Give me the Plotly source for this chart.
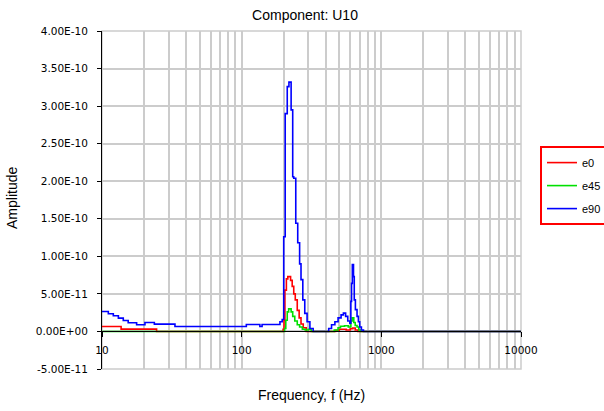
import plotly.graph_objects as go

# ---- data (amplitudes in units of 1e-11) ----
freq_e0 = [10, 13.7, 24.6, 198, 201, 204, 209, 214, 224, 230, 236, 242, 250, 258, 266, 276, 290,
           470, 500, 560, 600, 625, 650, 680, 10000]
amp_e0 = [0.66, 0.31, 0, 0.3, 1.5, 5.5, 7.0, 7.3, 6.8, 6.0, 5.0, 4.2, 2.8, 1.8, 1.0, 0.5, 0,
          0.15, 0.3, 0.2, 0.35, 0.45, 0.2, 0, 0]

freq_e45 = [10, 203, 207, 212, 217, 226, 232, 240, 250, 260, 272, 285, 300, 315,
            460, 490, 510, 545, 580, 605, 618, 635, 650, 670, 690, 710, 10000]
amp_e45 = [0, 0.4, 1.5, 2.6, 3.0, 2.6, 2.0, 1.4, 0.9, 0.6, 0.3, 0.2, 0.3, 0,
           0.2, 0.5, 0.7, 0.75, 0.6, 1.4, 1.8, 1.2, 0.8, 0.6, 0.2, 0, 0]

freq_e90 = [10, 11.1, 12.05, 13.1, 14.2, 15.4, 17.7, 20.3, 23.7, 33.3, 108, 135, 140, 188, 195,
            200, 205, 212, 218, 226, 232, 236, 244, 252, 260, 266, 274, 283, 294, 308, 325,
            420, 440, 465, 490, 515, 535, 555, 575, 595, 605, 612, 620, 632, 640, 652, 670,
            685, 700, 720, 745, 10000]
amp_e90 = [2.66, 2.35, 2.08, 1.77, 1.46, 1.15, 0.89, 1.2, 0.97, 0.66, 0.93, 0.66, 0.93, 1.3, 1.6,
           12.6, 29.0, 32.6, 33.2, 29.5, 20.6, 20.4, 14.4, 11.8, 9.0, 6.9, 4.2, 2.4, 1.3, 0.4, 0,
           0.4, 0.9, 1.3, 1.8, 2.2, 2.44, 2.0, 1.4, 1.1, 4.0, 6.4, 8.9, 7.3, 4.2, 2.9, 2.0,
           1.3, 0.6, 0.2, 0, 0]

series = [("e0", freq_e0, amp_e0, "#ff0000"),
          ("e45", freq_e45, amp_e45, "#00e000"),
          ("e90", freq_e90, amp_e90, "#0000ff")]

y_tick_vals = [-5e-11, 0, 5e-11, 1e-10, 1.5e-10, 2e-10, 2.5e-10, 3e-10, 3.5e-10, 4e-10]
y_tick_text = ["-5.00E-11", "0.00E+00", "5.00E-11", "1.00E-10", "1.50E-10", "2.00E-10",
               "2.50E-10", "3.00E-10", "3.50E-10", "4.00E-10"]
x_tick_vals = [10, 100, 1000, 10000]
x_tick_text = ["10", "100", "1000", "10000"]
x_minor_vals = [m * d for d in (10, 100, 1000) for m in range(2, 10)]

fig = go.Figure()
for name, f, a, c in series:
    fig.add_trace(go.Scatter(x=f, y=[v * 1e-11 for v in a], mode="lines", name=name,
                             line=dict(color=c, width=1.6, shape="hv"),
                             legendgroup=name))

ymin, ymax = -5e-11, 4e-10
zero_frac = (0 - ymin) / (ymax - ymin)
grid = "#cccccc"
tickfont = dict(family="DejaVu Sans", size=10.5, color="black")

fig.update_layout(
    width=604, height=411,
    margin=dict(l=102, r=83, t=31, b=42, autoexpand=False),
    paper_bgcolor="white", plot_bgcolor="white",
    title=dict(text="Component: U10", x=305 / 604, xref="container", xanchor="center",
               y=1 - 15 / 411, yref="container", yanchor="middle",
               font=dict(family="Liberation Sans", size=14, color="black")),
    xaxis=dict(type="log", range=[1, 4], tickmode="array", tickvals=x_tick_vals,
               ticktext=x_tick_text, ticks="outside", ticklen=5, tickcolor="black",
               showline=True, linecolor="black", linewidth=1,
               anchor="free", position=zero_frac,
               showgrid=True, gridcolor=grid, gridwidth=1.5,
               minor=dict(tickvals=x_minor_vals, showgrid=True, gridcolor=grid,
                          gridwidth=1.5, ticks=""),
               tickfont=tickfont, ticklabelstandoff=4, zeroline=False),
    yaxis=dict(range=[ymin, ymax], tickmode="array", tickvals=y_tick_vals,
               ticktext=y_tick_text, ticks="outside", ticklen=4, tickcolor="black",
               showline=True, linecolor="black", linewidth=1,
               showgrid=True, gridcolor=grid, gridwidth=1.5, zeroline=False,
               tickfont=tickfont, ticklabelstandoff=7),
    legend=dict(x=(540 - 102) / 419, xanchor="left", y=(369.3 - 146) / 338.6, yanchor="top",
                bordercolor="#ff0000", borderwidth=2, bgcolor="white",
                font=dict(family="Liberation Sans", size=11, color="black"),
                tracegroupgap=4, traceorder="grouped", itemwidth=30),
    showlegend=True,
    shapes=[dict(type="rect", xref="paper", yref="paper", x0=0, x1=1, y0=0, y1=1,
                 line=dict(color=grid, width=1.5), layer="below")],
    annotations=[
        dict(text="Frequency, f (Hz)", xref="paper", yref="paper",
             x=(311 - 102) / 419, y=(369.3 - 395) / 338.6, xanchor="center", yanchor="middle",
             showarrow=False, font=dict(family="Liberation Sans", size=14, color="black")),
        dict(text="Amplitude", xref="paper", yref="paper", textangle=-90,
             x=(12 - 102) / 419, y=(369.3 - 198) / 338.6, xanchor="center", yanchor="middle",
             showarrow=False, font=dict(family="Liberation Sans", size=14, color="black")),
    ],
)

fig.write_html("out.html")
